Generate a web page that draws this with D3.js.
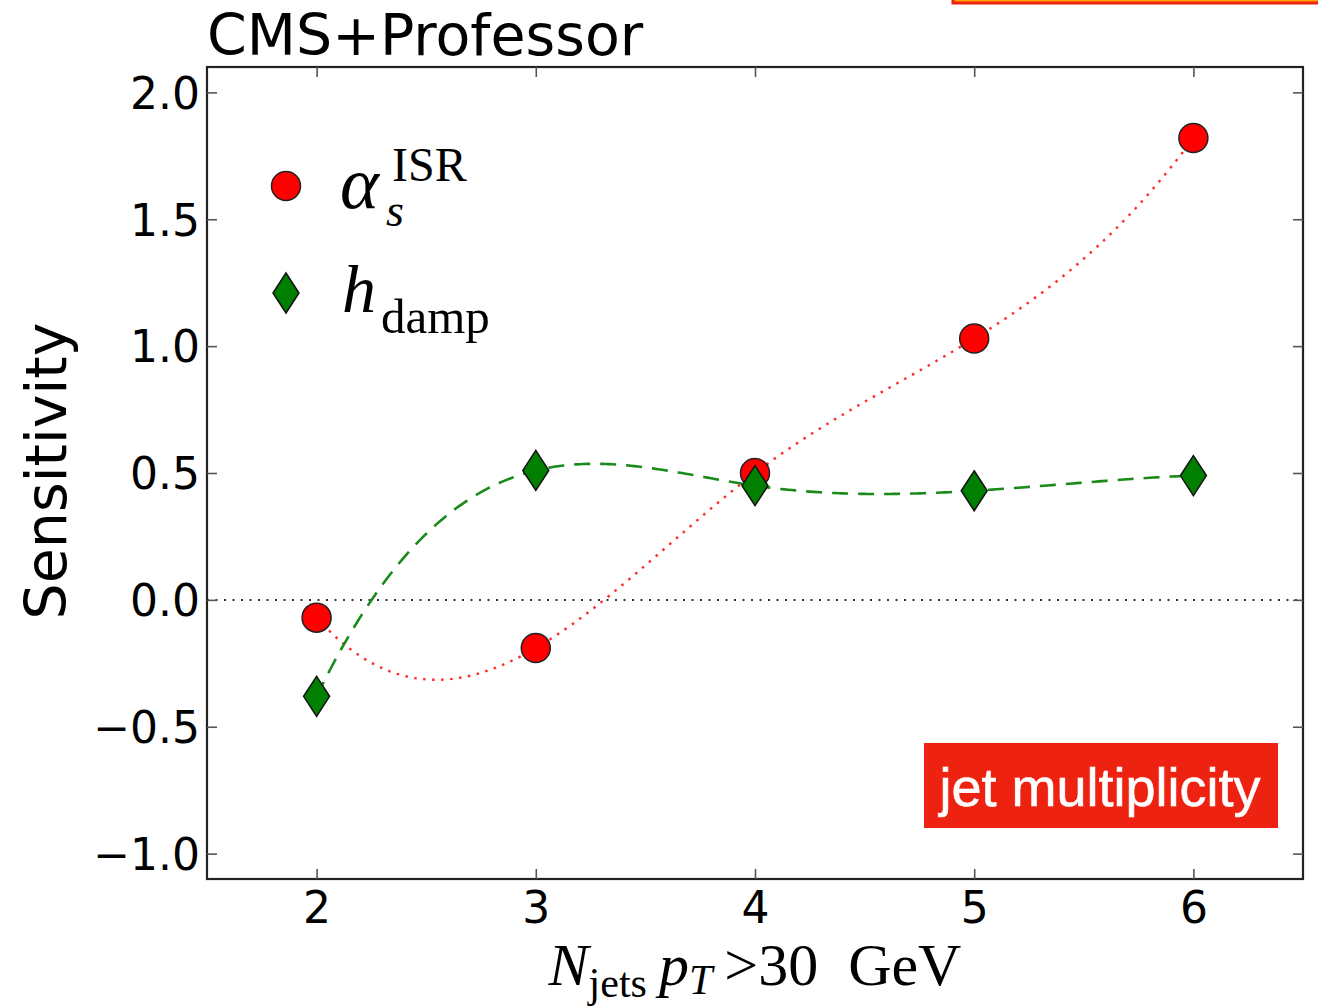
<!DOCTYPE html>
<html>
<head>
<meta charset="utf-8">
<script src="https://cdn.jsdelivr.net/npm/d3@7"></script>
<style>
  html, body { margin: 0; padding: 0; background: #fff; }
  svg { display: block; }
  .sans { font-family: "DejaVu Sans", sans-serif; }
  .serif { font-family: "Liberation Serif", "DejaVu Serif", serif; }
</style>
</head>
<body>
<svg id="chart" width="1318" height="1007"></svg>
<script>
// Jet multiplicity bins and the sensitivity of each tuning parameter
const nJets = [2, 3, 4, 5, 6];
const alphaS = [-0.07, -0.19, 0.50, 1.03, 1.82];
const hDamp = [-0.38, 0.51, 0.45, 0.43, 0.49];
const xTicks = [2, 3, 4, 5, 6];
const yTicks = [-1.0, -0.5, 0.0, 0.5, 1.0, 1.5, 2.0];

const W = 1318, H = 1007;
const plot = { left: 207, right: 1303, top: 67, bottom: 879 };

const svg = d3.select("#chart");
const x = d3.scaleLinear().domain([1.5, 6.5]).range([plot.left, plot.right]);
const y = d3.scaleLinear().domain([-1.1, 2.1]).range([plot.bottom, plot.top]);

// Not-a-knot cubic spline through (xs, ys), sampled finely for a smooth curve
function notAKnotSpline(xs, ys, samples) {
  const n = xs.length;
  const h = xs[1] - xs[0]; // uniform spacing
  const rhs = [];
  for (let i = 1; i < n - 1; i++) rhs.push(6 * (ys[i + 1] - 2 * ys[i] + ys[i - 1]) / (h * h));
  // Unknowns M1..M(n-2); M0 = 2M1 - M2, M(n-1) = 2M(n-2) - M(n-3)
  const m = n - 2;
  const A = Array.from({ length: m }, () => new Array(m).fill(0));
  for (let r = 0; r < m; r++) {
    A[r][r] = 4;
    if (r > 0) A[r][r - 1] = 1;
    if (r < m - 1) A[r][r + 1] = 1;
  }
  // fold end conditions into first and last rows
  A[0][0] += 2; A[0][1] -= 1;
  A[m - 1][m - 1] += 2; A[m - 1][m - 2] -= 1;
  // Gauss-Jordan elimination
  const M = A.map((row, i) => row.concat([rhs[i]]));
  for (let c = 0; c < m; c++) {
    let p = c;
    for (let r = c + 1; r < m; r++) if (Math.abs(M[r][c]) > Math.abs(M[p][c])) p = r;
    [M[c], M[p]] = [M[p], M[c]];
    for (let r = 0; r < m; r++) {
      if (r === c) continue;
      const f = M[r][c] / M[c][c];
      for (let k = c; k <= m; k++) M[r][k] -= f * M[c][k];
    }
  }
  const inner = M.map((row, i) => row[m] / row[i]);
  const Ms = [2 * inner[0] - inner[1], ...inner, 2 * inner[m - 1] - inner[m - 2]];
  const pts = [];
  for (let i = 0; i < n - 1; i++) {
    for (let s = 0; s < samples; s++) {
      const t = s / samples;
      const v = ys[i] * (1 - t) + ys[i + 1] * t
        - (h * h * t * (1 - t) / 6) * ((2 - t) * Ms[i] + (1 + t) * Ms[i + 1]);
      pts.push([xs[i] + t * h, v]);
    }
  }
  pts.push([xs[n - 1], ys[n - 1]]);
  return pts;
}

const line = d3.line().x(d => x(d[0])).y(d => y(d[1]));

// Partially visible badge at the top edge
svg.append("rect")
  .attr("x", 953).attr("y", -40).attr("width", 380).attr("height", 43)
  .attr("fill", "#FFA200").attr("stroke", "#EE2211").attr("stroke-width", 3);

// Zero reference line
svg.append("line")
  .attr("x1", plot.left).attr("x2", plot.right)
  .attr("y1", y(0)).attr("y2", y(0))
  .attr("stroke", "#333").attr("stroke-width", 2)
  .attr("stroke-dasharray", "2 6.5");

// Interpolating curves
svg.append("path")
  .datum(notAKnotSpline(nJets, alphaS, 60))
  .attr("d", line)
  .attr("fill", "none").attr("stroke", "#FF2a2a").attr("stroke-width", 2.4)
  .attr("stroke-dasharray", "2.5 6.5");

svg.append("path")
  .datum(notAKnotSpline(nJets, hDamp, 60))
  .attr("d", line)
  .attr("fill", "none").attr("stroke", "#1a8a1a").attr("stroke-width", 2.6)
  .attr("stroke-dasharray", "16 10");

// Markers
const diamondPath = "M0,-20 L13,0 L0,20 L-13,0 Z";

svg.append("g").selectAll("circle")
  .data(nJets.map((n, i) => [n, alphaS[i]]))
  .join("circle")
  .attr("cx", d => x(d[0])).attr("cy", d => y(d[1])).attr("r", 14.5)
  .attr("fill", "#FF0000").attr("stroke", "#222").attr("stroke-width", 1.5);

svg.append("g").selectAll("path")
  .data(nJets.map((n, i) => [n, hDamp[i]]))
  .join("path")
  .attr("d", diamondPath)
  .attr("transform", d => `translate(${x(d[0])},${y(d[1])})`)
  .attr("fill", "#007F00").attr("stroke", "#111").attr("stroke-width", 1.5);

// Frame
svg.append("rect")
  .attr("x", plot.left).attr("y", plot.top)
  .attr("width", plot.right - plot.left).attr("height", plot.bottom - plot.top)
  .attr("fill", "none").attr("stroke", "#222").attr("stroke-width", 2.2);

// Inward ticks on all four sides
const tickLen = 10;
const bottomAxis = d3.axisBottom(x).tickValues(xTicks).tickSize(-tickLen).tickPadding(13).tickFormat(d3.format("d"));
const topAxis = d3.axisTop(x).tickValues(xTicks).tickSize(-tickLen).tickFormat("");
const fmtY = v => d3.format(".1f")(v).replace("-", "\u2212");
const leftAxis = d3.axisLeft(y).tickValues(yTicks).tickSize(-tickLen).tickPadding(7).tickFormat(fmtY);
const rightAxis = d3.axisRight(y).tickValues(yTicks).tickSize(-tickLen).tickFormat("");

function styleAxis(g) {
  g.select(".domain").remove();
  g.selectAll(".tick line").attr("stroke", "#555").attr("stroke-width", 1.6);
  g.selectAll(".tick text").attr("fill", "#000")
    .attr("font-family", "DejaVu Sans, sans-serif").attr("font-size", 44);
}
svg.append("g").attr("transform", `translate(0,${plot.bottom})`).call(bottomAxis).call(styleAxis)
  .selectAll(".tick text").attr("dy", "0.71em");
svg.append("g").attr("transform", `translate(0,${plot.top})`).call(topAxis).call(styleAxis);
svg.append("g").attr("transform", `translate(${plot.left},0)`).call(leftAxis).call(styleAxis)
  .selectAll(".tick text").attr("dy", "0.36em");
svg.append("g").attr("transform", `translate(${plot.right},0)`).call(rightAxis).call(styleAxis);

// Title
svg.append("text").attr("class", "sans")
  .attr("x", 207).attr("y", 55)
  .attr("font-size", 57).attr("fill", "#000")
  .text("CMS+Professor");

// Axis titles
svg.append("text").attr("class", "sans")
  .attr("transform", `translate(66,${(plot.top + plot.bottom) / 2 - 2}) rotate(-90)`)
  .attr("text-anchor", "middle")
  .attr("font-size", 57).attr("fill", "#000")
  .text("Sensitivity");

const xt = svg.append("text").attr("class", "serif")
  .attr("x", 755).attr("y", 985).attr("text-anchor", "middle")
  .attr("font-size", 60).attr("fill", "#000");
xt.append("tspan").attr("font-style", "italic").text("N");
xt.append("tspan").attr("font-size", 42).attr("dy", 12).text("jets");
xt.append("tspan").attr("dy", -12).text("\u2009");
xt.append("tspan").attr("font-style", "italic").text("p");
xt.append("tspan").attr("font-style", "italic").attr("font-size", 42).attr("dy", 9).text("T");
xt.append("tspan").attr("dy", -9).text("\u2009>30\u2002GeV");

// Legend
const lg = svg.append("g");
lg.append("circle").attr("cx", 286).attr("cy", 186).attr("r", 14.5)
  .attr("fill", "#FF0000").attr("stroke", "#222").attr("stroke-width", 1.5);
lg.append("path").attr("d", diamondPath).attr("transform", "translate(286,293)")
  .attr("fill", "#007F00").attr("stroke", "#111").attr("stroke-width", 1.5);

lg.append("text").attr("class", "serif").attr("x", 340).attr("y", 208)
  .attr("font-size", 74).attr("font-style", "italic").attr("fill", "#000").text("\u03B1");
lg.append("text").attr("class", "serif").attr("x", 392).attr("y", 181)
  .attr("font-size", 48).attr("fill", "#000").text("ISR");
lg.append("text").attr("class", "serif").attr("x", 386).attr("y", 226)
  .attr("font-size", 46).attr("font-style", "italic").attr("fill", "#000").text("s");

lg.append("text").attr("class", "serif").attr("x", 342).attr("y", 312)
  .attr("font-size", 68).attr("font-style", "italic").attr("fill", "#000").text("h");
lg.append("text").attr("class", "serif").attr("x", 381).attr("y", 333)
  .attr("font-size", 49).attr("fill", "#000").text("damp");

// Observable tag
svg.append("rect").attr("x", 924).attr("y", 743).attr("width", 354).attr("height", 85)
  .attr("fill", "#EE2211");
svg.append("text").attr("x", 1100).attr("y", 806).attr("text-anchor", "middle")
  .attr("font-family", "Liberation Sans, Arial, sans-serif").attr("font-size", 54)
  .attr("fill", "#fff").attr("stroke", "#fff").attr("stroke-width", 0.6)
  .text("jet multiplicity");
</script>
</body>
</html>
